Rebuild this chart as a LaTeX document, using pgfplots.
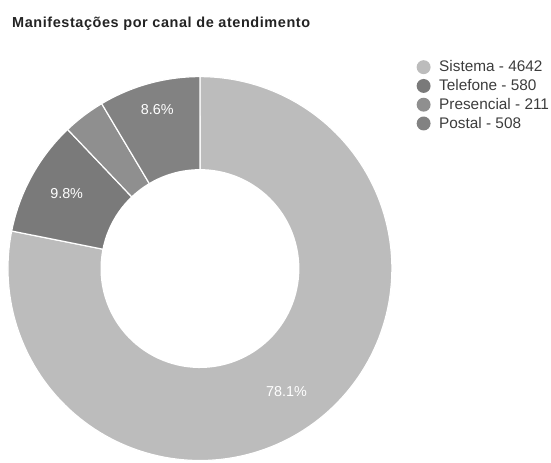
\documentclass[border=0pt]{standalone}
\usepackage{pgfplots}
\pgfplotsset{compat=1.18}
\usepackage{fontspec}
\setmainfont{Liberation Sans}
\newfontfamily\titlefont[LetterSpace=4.0]{Liberation Sans}
\definecolor{cSis}{RGB}{188,188,188}
\definecolor{cTel}{RGB}{122,122,122}
\definecolor{cPre}{RGB}{143,143,143}
\definecolor{cPos}{RGB}{130,130,130}
\definecolor{txt}{RGB}{60,60,60}
% data
\def\vSis{4642}\def\vTel{580}\def\vPre{211}\def\vPos{508}
\pgfmathsetmacro\tot{\vSis+\vTel+\vPre+\vPos}
\pgfmathsetmacro\aA{90}
\pgfmathsetmacro\aB{\aA-360*(\vSis/\tot)}
\pgfmathsetmacro\aC{\aB-360*(\vTel/\tot)}
\pgfmathsetmacro\aD{\aC-360*(\vPre/\tot)}
\pgfmathsetmacro\aE{\aD-360*(\vPos/\tot)}
\def\cx{201}\def\cy{195}\def\R{193}\def\r{100}
\begin{document}
\begin{tikzpicture}
\begin{axis}[hide axis, scale only axis, width=551bp, height=465bp,
  xmin=0, xmax=551, ymin=0, ymax=465, clip=false,
  legend style={at={(axis cs:418,406)}, anchor=north west, draw=none, fill=none,
    font=\fontsize{15.5}{17}\selectfont, text=txt, row sep=2.2bp, inner sep=0pt,
    legend cell align=left},
  legend image code/.code={\fill[#1,draw=none] (0.25cm,0cm) circle (7bp);\path (0,0) (0.71cm,0);},
]
\addplot[fill=cSis, draw=white, line width=1.2pt, domain=\aB:\aA, samples=150, variable=\t]
  ({\cx+\R*cos(\t)},{\cy+\R*sin(\t)}) -- (axis cs:\cx,\cy) -- cycle;
\addlegendentry{Sistema - 4642}
\addplot[fill=cTel, draw=white, line width=1.2pt, domain=\aC:\aB, samples=30, variable=\t]
  ({\cx+\R*cos(\t)},{\cy+\R*sin(\t)}) -- (axis cs:\cx,\cy) -- cycle;
\addlegendentry{Telefone - 580}
\addplot[fill=cPre, draw=white, line width=1.2pt, domain=\aD:\aC, samples=15, variable=\t]
  ({\cx+\R*cos(\t)},{\cy+\R*sin(\t)}) -- (axis cs:\cx,\cy) -- cycle;
\addlegendentry{Presencial - 211}
\addplot[fill=cPos, draw=white, line width=1.2pt, domain=\aE:\aD, samples=30, variable=\t]
  ({\cx+\R*cos(\t)},{\cy+\R*sin(\t)}) -- (axis cs:\cx,\cy) -- cycle;
\addlegendentry{Postal - 508}
\addplot[forget plot, fill=white, draw=none, domain=0:360, samples=120, variable=\t]
  ({\cx+\r*cos(\t)},{\cy+\r*sin(\t)}) -- cycle;
\addplot[forget plot, draw=none, mark=none, nodes near coords, point meta=explicit symbolic,
  nodes near coords style={white, anchor=center, font=\fontsize{14.5}{16}\selectfont}]
  table[meta=label, row sep=\\] {
  x y label\\
  288 71 78.1\%\\
  67 270 9.8\%\\
  158 355 8.6\%\\
};
\node[anchor=base west, inner sep=0pt, font=\titlefont\bfseries\fontsize{14.6}{16}\selectfont, text={rgb,255:red,35;green,35;blue,35}]
  at (axis cs:12,437) {Manifestações por canal de atendimento};
\path (axis cs:0,0) rectangle (axis cs:551,465);
\end{axis}
\end{tikzpicture}
\end{document}
